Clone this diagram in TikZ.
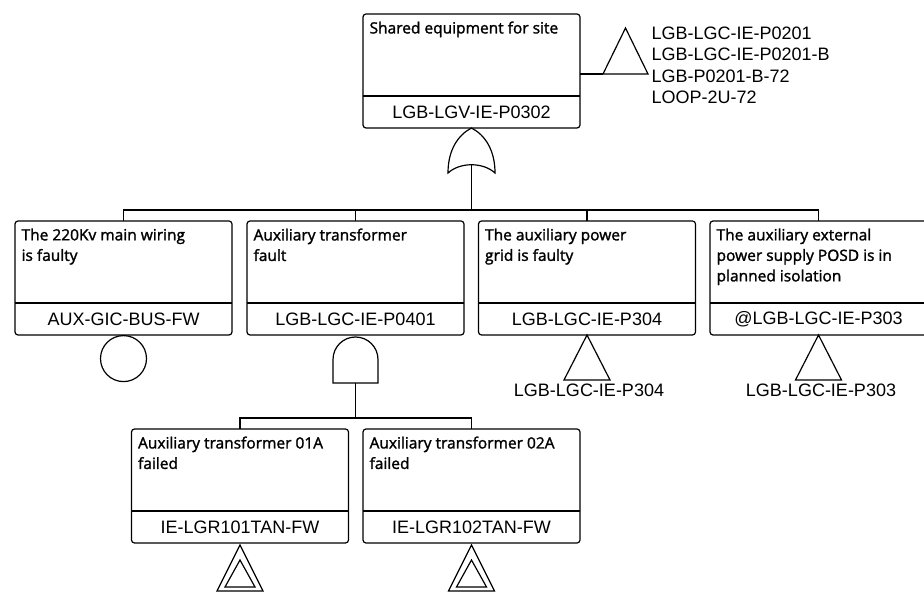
\documentclass[tikz,border=0pt]{standalone}
\usepackage{fontspec}
\setmainfont{Liberation Sans}
\newfontfamily\descfont{Open Sans}[FakeBold=1.6]
\begin{document}
\begin{tikzpicture}[x=1pt,y=-1pt,line width=1.2pt,
  ebox/.style={draw,rounded corners=3pt,minimum width=217pt,minimum height=114pt,inner sep=0pt,outer sep=0pt},
  desctext/.style={font=\descfont\fontsize{15.5}{20.5}\selectfont,align=left,inner sep=0pt,anchor=north west},
  idtext/.style={font=\fontsize{18}{20}\selectfont,inner sep=0pt},
  lbl/.style={font=\fontsize{18}{20}\selectfont,inner sep=0pt},
  wire/.style={line width=1.2pt}]
\useasboundingbox (0,0) rectangle (924,593);
\newcommand\ftbox[5]{%
  \node[ebox,anchor=north] (#1) at (#2,#3) {};
  \draw ([yshift=32pt]#1.south west) -- ([yshift=32pt]#1.south east);
  \node[desctext] (#1d) at ([xshift=6pt,yshift=-7pt]#1.north west) {#4};
  \node[idtext] (#1i) at ([yshift=16pt]#1.south) {#5};
}
% boxes
\ftbox{top}{471.5}{14}{Shared equipment for site}{LGB-LGV-IE-P0302}
\ftbox{b1}{123.5}{221}{The 220Kv main wiring\\is faulty}{AUX-GIC-BUS-FW}
\ftbox{b2}{355.5}{221}{Auxiliary transformer\\fault}{LGB-LGC-IE-P0401}
\ftbox{b3}{587}{221}{The auxiliary power\\grid is faulty}{LGB-LGC-IE-P304}
\ftbox{b4}{818.5}{221}{The auxiliary external\\power supply POSD is in\\planned isolation}{@LGB-LGC-IE-P303}
\ftbox{c1}{240}{429}{Auxiliary transformer 01A\\failed}{IE-LGR101TAN-FW}
\ftbox{c2}{471.5}{429}{Auxiliary transformer 02A\\failed}{IE-LGR102TAN-FW}

% transfer triangle for top box
\coordinate (tt) at (603,74);
\draw (top.east |- tt) -- (tt);
\draw (tt) -- (625.5,28) -- (648,74) -- cycle;
\node[lbl,anchor=west] (tl1) at (651,33) {LGB-LGC-IE-P0201};
\node[lbl,anchor=west] (tl2) at (651,54.5) {LGB-LGC-IE-P0201-B};
\node[lbl,anchor=west] (tl3) at (651,76) {LGB-P0201-B-72};
\node[lbl,anchor=west] (tl4) at (651,97.5) {LOOP-2U-72};

% OR gate
\coordinate (orA) at (top.south);
\draw (448,173) .. controls (448,150) and (458,135) .. (orA)
      .. controls (485,135) and (495,150) .. (495,173)
      .. controls (483,162) and (460,162) .. (448,173) -- cycle;
\coordinate (orB) at (471.5,165.5);
\coordinate (bus1) at (471.5,210);
\draw (orB) -- (bus1);
\draw (b1.north) -- (b1.north |- bus1) -- (b4.north |- bus1) -- (b4.north);
\draw (b2.north) -- (b2.north |- bus1);
\draw (b3.north) -- (b3.north |- bus1);

% basic event circle
\node[draw,circle,minimum size=46pt,inner sep=0pt,anchor=north] (circ) at (b1.south) {};

% AND gate
\coordinate (andT) at (b2.south);
\draw (333,383) -- (333,359.5) arc[start angle=180,end angle=360,radius=22.5] -- (378,383) -- cycle;
\coordinate (andB) at (355.5,383);
\coordinate (bus2) at (355.5,418);
\draw (andB) -- (bus2);
\draw (c1.north) -- (c1.north |- bus2) -- (c2.north |- bus2) -- (c2.north);

% transfer triangles row 2
\draw (b3.south) -- ++(-23,45) -- ++(46,0) -- cycle;
\node[lbl] (t3) at (589,390.5) {LGB-LGC-IE-P304};
\draw (b4.south) -- ++(-23,45) -- ++(46,0) -- cycle;
\node[lbl] (t4) at (821,390.5) {LGB-LGC-IE-P303};

% double triangles
\foreach \n in {c1,c2}{
  \draw ([yshift=-2pt]\n.south) -- ++(-23,46) -- ++(46,0) -- cycle;
  \draw ([yshift=-17pt]\n.south) -- ++(-15,27) -- ++(30,0) -- cycle;
}
\end{tikzpicture}
\end{document}
